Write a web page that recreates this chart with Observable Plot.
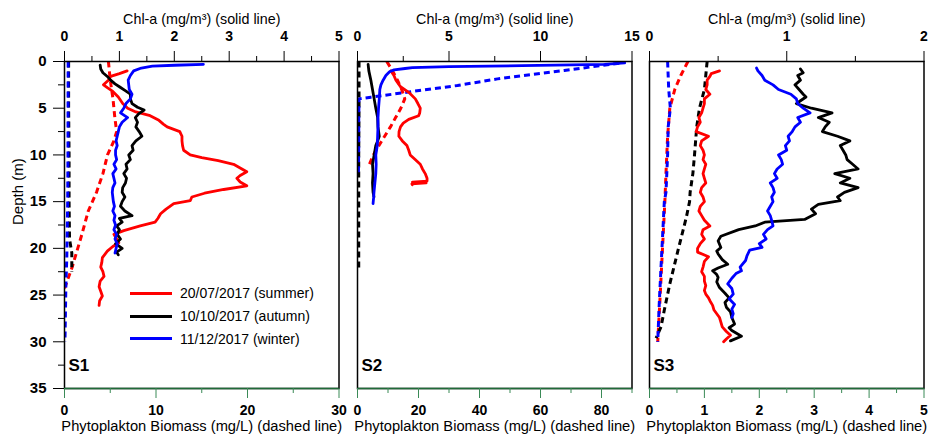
<!DOCTYPE html>
<html><head><meta charset="utf-8">
<script src="https://cdn.jsdelivr.net/npm/d3@7"></script>
<script src="https://cdn.jsdelivr.net/npm/@observablehq/plot@0.6"></script>
<style>
body{margin:0;background:#fff;font-family:"Liberation Sans",Arial,sans-serif;}
#chart{position:relative;width:928px;height:439px;overflow:hidden;}
#chart svg{position:absolute;top:0;overflow:visible;background:none;}
.legend{position:absolute;left:130px;top:282px;font-size:14px;color:#000;}
.legend .row{display:flex;align-items:center;height:22.7px;}
.legend .sw{width:42px;height:3px;margin-right:8px;}
</style></head><body><div id="chart"></div>
<script>
// ---- Data: [depth (m), value] ----
const seasons = ["20/07/2017 (summer)", "10/10/2017 (autumn)", "11/12/2017 (winter)"];
const seasonColors = ["#ff0000", "#000000", "#0000ff"];
const stations = ["S1", "S2", "S3"];

// S1 Chl-a (mg/m3)
const s1SummerChl = [[1.0,1.14],[1.3,1.0],[1.6,0.84],[2.0,0.8],[2.5,0.71],[2.8,0.78],[3.2,0.88],[3.8,0.98],[4.5,1.06],[5.0,1.15],[5.4,1.3],[5.8,1.56],[6.3,1.72],[6.7,1.8],[7.0,1.87],[7.5,2.1],[8.0,2.14],[8.5,2.14],[9.0,2.15],[9.5,2.17],[10.0,2.29],[10.3,2.5],[10.6,2.8],[11.0,3.08],[11.4,3.2],[11.8,3.32],[12.2,3.2],[12.5,3.14],[12.9,3.2],[13.3,3.32],[13.7,2.9],[14.1,2.55],[14.5,2.32],[14.9,2.29],[15.2,1.99],[15.8,1.85],[16.3,1.75],[16.8,1.7],[17.2,1.65],[17.6,1.38],[18.1,1.08],[18.5,0.9],[19.0,0.95],[19.4,0.99],[19.8,0.88],[20.3,0.78],[21.0,0.69],[21.5,0.68],[22.0,0.66],[22.5,0.7],[23.0,0.72],[23.5,0.65],[24.1,0.63],[24.6,0.66],[25.1,0.69],[25.6,0.64],[26.1,0.63]];
const s1AutumnChl = [[0.4,0.65],[0.8,0.66],[1.2,0.7],[1.6,0.78],[2.0,0.84],[2.4,0.92],[2.7,1.0],[3.1,1.1],[3.5,1.2],[4.0,1.2],[4.5,1.23],[4.9,1.33],[5.2,1.45],[5.6,1.35],[6.0,1.29],[6.5,1.33],[7.0,1.3],[7.5,1.36],[8.0,1.41],[8.5,1.3],[9.0,1.23],[9.5,1.25],[10.0,1.17],[10.5,1.2],[11.0,1.12],[11.5,1.14],[12.0,1.08],[12.5,1.13],[13.0,1.11],[13.5,1.06],[14.0,1.05],[14.5,1.1],[15.0,1.05],[15.5,1.02],[16.0,1.1],[16.5,1.23],[16.8,1.0],[17.2,1.05],[17.6,0.95],[18.0,1.0],[18.5,0.96],[19.0,1.02],[19.5,0.93],[20.0,1.05],[20.4,0.95],[20.7,0.98]];
const s1WinterChl = [[0.3,2.53],[0.4,2.0],[0.5,1.6],[0.7,1.4],[1.0,1.26],[1.5,1.2],[2.0,1.16],[2.5,1.17],[3.0,1.18],[3.5,1.23],[4.0,1.2],[4.5,1.12],[5.0,1.08],[5.5,1.02],[6.0,1.15],[6.5,1.05],[7.0,1.0],[7.5,0.98],[8.0,0.96],[8.5,0.94],[9.0,0.96],[9.5,0.93],[10.0,0.93],[10.5,0.95],[11.0,0.9],[11.5,0.94],[12.0,0.88],[12.5,0.9],[13.0,0.92],[13.5,0.88],[14.0,0.87],[14.5,0.88],[15.0,0.89],[15.5,0.91],[16.0,0.88],[16.5,0.92],[17.0,0.9],[17.5,0.93],[18.0,0.9],[18.5,0.95],[19.0,0.92],[19.5,0.96],[20.0,0.94],[20.5,0.92]];
// S1 phytoplankton biomass (mg/L)
const s1SummerBio = [[0,4.8],[2,5.0],[4,5.3],[6,5.5],[7.5,5.7],[8.5,5.4],[10,4.7],[12,4.2],[14,3.5],[16,2.6],[18.5,1.9],[22,0.84],[24.3,0]];
const s1AutumnBio = [[0,0.45],[5,0.45],[10,0.5],[15,0.5],[19,0.55],[20.5,0.8],[22.5,0.8]];
const s1WinterBio = [[0,0.4],[10,0.38],[15,0.35],[18,0.3],[21,0.25],[24,0.15],[27,0.1],[30,0.05]];

// S2 Chl-a
const s2SummerChl = [[1.0,1.82],[1.5,1.99],[2.0,2.1],[2.7,2.35],[3.3,2.8],[4.0,3.16],[4.5,3.3],[5.0,3.43],[5.5,3.4],[5.8,3.34],[6.2,2.8],[6.6,2.5],[7.0,2.35],[7.5,2.27],[8.0,2.26],[8.5,2.45],[9.0,2.7],[9.5,2.8],[10.0,2.88],[10.5,3.15],[11.0,3.43],[11.5,3.55],[12.0,3.7],[12.5,3.8],[12.8,3.8],[12.9,3.0],[13.0,3.75],[13.1,2.97],[13.2,3.0]];
const s2AutumnChl = [[0.3,0.58],[1,0.62],[2,0.73],[3,0.82],[4,0.91],[5,1.0],[6,1.1],[7,1.12],[8,1.19],[8.5,1.1],[9,1.0],[10,0.91],[11,0.82],[12,0.85],[13,0.82],[14,0.85],[14.5,0.9]];
const s2WinterChl = [[0.15,14.6],[0.3,13.5],[0.45,9],[0.55,5],[0.65,3.0],[0.75,2.6],[0.9,2.0],[1.1,1.75],[1.5,1.55],[2.0,1.4],[2.5,1.28],[3.0,1.22],[4.0,1.19],[5.0,1.15],[6.0,1.12],[7.0,1.12],[8.0,1.1],[9.0,1.08],[10.0,1.0],[11.0,1.02],[12.0,1.0],[13.0,0.95],[14.0,0.9],[14.6,0.88],[15.2,0.85]];
// S2 biomass
const s2SummerBio = [[0,9.6],[1,11.5],[2,13.1],[3,14.5],[4,15.5],[5,14.2],[6,12.5],[7,10.8],[8,8.9],[9,7],[10,5.2],[11.1,3.8]];
const s2AutumnBio = [[0,0.5],[5,0.5],[10,0.4],[15,0.4],[20,0.4],[22.3,0.4]];
const s2WinterBio = [[0.18,85.8],[0.96,67.8],[1.86,45.9],[2.57,32.8],[3.18,18.6],[3.82,4.4],[4.0,0.5],[6,0.4],[9,0.4],[12,0.3]];

// S3 Chl-a
const s3SummerChl = [[1.0,0.51],[1.3,0.45],[1.6,0.44],[2.0,0.42],[2.5,0.42],[3.0,0.41],[3.5,0.44],[4.0,0.4],[4.5,0.4],[5.0,0.39],[5.5,0.38],[6.0,0.36],[6.5,0.37],[7.0,0.35],[7.5,0.34],[8.0,0.43],[8.5,0.38],[9.0,0.37],[9.5,0.39],[10.0,0.4],[10.5,0.39],[11.0,0.41],[11.5,0.4],[12.0,0.39],[12.5,0.4],[13.0,0.41],[13.5,0.38],[14.0,0.37],[14.5,0.39],[15.0,0.4],[15.5,0.37],[16.0,0.36],[16.5,0.38],[17.0,0.4],[17.6,0.44],[18.0,0.39],[18.5,0.38],[19.0,0.4],[19.5,0.37],[20.0,0.35],[20.4,0.35],[20.9,0.43],[21.4,0.4],[22.0,0.39],[22.5,0.38],[23.0,0.4],[23.5,0.4],[24.0,0.41],[24.5,0.4],[24.9,0.41],[25.3,0.43],[25.6,0.44],[26.1,0.46],[26.6,0.47],[27.0,0.49],[27.4,0.51],[27.9,0.52],[28.4,0.53],[28.9,0.56],[29.3,0.59],[29.7,0.56],[30.0,0.54]];
const s3AutumnChl = [[0.8,1.1],[1.2,1.12],[1.5,1.08],[2.0,1.1],[2.5,1.06],[3.0,1.09],[3.5,1.12],[3.8,1.14],[4.2,1.1],[4.5,1.07],[5.0,1.18],[5.5,1.33],[6.0,1.23],[6.5,1.31],[7.0,1.28],[7.5,1.26],[8.0,1.37],[8.5,1.46],[9.0,1.39],[9.5,1.41],[10.0,1.43],[10.5,1.44],[11.0,1.48],[11.5,1.52],[12.0,1.35],[12.5,1.46],[13.0,1.39],[13.5,1.52],[14.0,1.42],[14.5,1.37],[14.9,1.39],[15.3,1.23],[15.8,1.18],[16.3,1.21],[16.9,1.13],[17.2,0.84],[17.6,0.77],[18.0,0.65],[18.7,0.52],[19.2,0.5],[19.9,0.52],[20.3,0.49],[20.6,0.5],[21.2,0.53],[21.7,0.57],[22.1,0.5],[22.4,0.46],[22.8,0.49],[23.1,0.5],[23.6,0.49],[24.2,0.51],[24.8,0.55],[25.3,0.58],[25.8,0.55],[26.3,0.56],[26.8,0.59],[27.4,0.6],[28.1,0.62],[28.5,0.58],[28.8,0.6],[29.4,0.67],[29.9,0.59]];
const s3WinterChl = [[0.7,0.78],[1.0,0.79],[1.5,0.82],[2.0,0.84],[2.5,0.9],[3.0,0.94],[3.5,1.03],[4.0,1.07],[4.5,1.08],[5.0,1.12],[5.5,1.17],[6.0,1.08],[6.5,1.1],[7.0,1.06],[7.5,1.04],[8.0,1.01],[8.5,1.02],[9.0,0.99],[9.5,1.0],[10.0,0.94],[10.5,0.96],[11.0,0.97],[11.5,0.93],[12.0,0.91],[12.5,0.93],[13.0,0.88],[13.5,0.9],[14.0,0.91],[14.5,0.89],[15.0,0.9],[15.5,0.88],[16.0,0.86],[16.5,0.88],[17.0,0.89],[17.6,0.9],[18.0,0.86],[18.5,0.83],[19.0,0.85],[19.5,0.8],[19.9,0.82],[20.2,0.73],[20.8,0.71],[21.3,0.7],[22.0,0.66],[22.4,0.67],[22.7,0.63],[23.2,0.6],[23.8,0.57],[24.3,0.6],[24.9,0.61],[25.4,0.58],[26.0,0.62],[26.5,0.6],[27.0,0.61],[27.4,0.6]];
// S3 biomass
const s3SummerBio = [[0,0.7],[1.5,0.57],[3,0.46],[5,0.37],[8,0.33],[12,0.3],[15,0.28],[18.5,0.25],[22,0.22],[25.6,0.19],[30,0.15]];
const s3AutumnBio = [[0,1.05],[3,1.0],[5,0.91],[7,0.86],[10,0.82],[12,0.79],[14,0.74],[15,0.73],[16.7,0.67],[20.2,0.52],[23.8,0.37],[26.6,0.27],[28.4,0.21],[29.6,0.12]];
const s3WinterBio = [[0,0.33],[3,0.35],[5,0.38],[7,0.34],[10,0.33],[14,0.3],[15,0.27],[18.5,0.24],[22,0.21],[25.6,0.18],[30,0.15]];

// Axis ticks
const depthMajor = [0,5,10,15,20,25,30,35];
const depthMinor = [2.5,7.5,12.5,17.5,22.5,27.5,32.5];
const chlDomains = [5, 15, 2];
const chlMajorTicks = [[0,1,2,3,4,5],[0,5,10,15],[0,1,2]];
const chlMinorTicks = [[0.5,1.5,2.5,3.5,4.5],[2.5,7.5,12.5],[0.5,1.5]];
const bioDomains = [30, 90, 5];
const bioMajorTicks = [[0,10,20,30],[0,20,40,60,80],[0,1,2,3,4,5]];
const bioMinorTicks = [[5,15,25],[10,30,50,70,90],[0.5,1.5,2.5,3.5,4.5]];

const chlSeries = [[s1SummerChl,s1AutumnChl,s1WinterChl],[s2SummerChl,s2AutumnChl,s2WinterChl],[s3SummerChl,s3AutumnChl,s3WinterChl]];
const bioSeries = [[s1SummerBio,s1AutumnBio,s1WinterBio],[s2SummerBio,s2AutumnBio,s2WinterBio],[s3SummerBio,s3AutumnBio,s3WinterBio]];

// ---- Layout ----
const frameW = 274.5;
const lefts = [0, 336.5, 628.5];
const mLefts = [64, 20, 20];
const green = "#1f6b38";
const tickGreen = "#3b8a57";
const font = "'Liberation Sans', Arial, sans-serif";
const chart = document.getElementById("chart");

for (let i = 0; i < 3; i++) {
  const k = chlDomains[i] / bioDomains[i];
  const marks = [];
  bioSeries[i].forEach((s, j) => {
    marks.push(Plot.line(s, {x: d => d[1] * k, y: d => d[0], stroke: seasonColors[j], strokeWidth: 3, strokeDasharray: "6,4", strokeLinecap: "butt", clip: true}));
  });
  chlSeries[i].forEach((s, j) => {
    marks.push(Plot.line(s, {x: d => d[1], y: d => d[0], stroke: seasonColors[j], strokeWidth: 2.8, strokeLinejoin: "round", clip: true}));
  });
  marks.push(Plot.frame({stroke: "#000", strokeWidth: 1.5}));
  marks.push(Plot.ruleY([35], {stroke: green, strokeWidth: 1.5}));
  // top axis (Chl-a)
  marks.push(Plot.axisX(chlMajorTicks[i], {anchor: "top", tickSize: 11, tickPadding: 10, fontSize: 14, fontWeight: "bold", label: null, tickFormat: d => String(d)}));
  marks.push(Plot.axisX(chlMinorTicks[i], {anchor: "top", tickSize: 6, label: null, tickFormat: () => ""}));
  // bottom axis (biomass), in biomass units mapped onto the panel
  marks.push(Plot.axisX(bioMajorTicks[i].map(v => v * k), {anchor: "bottom", tickSize: 10, tickPadding: 7, stroke: tickGreen, fill: "#000", fontSize: 14, fontWeight: "bold", label: null, tickFormat: v => String(Math.round(v / k))}));
  marks.push(Plot.axisX(bioMinorTicks[i].map(v => v * k), {anchor: "bottom", tickSize: 5, stroke: tickGreen, label: null, tickFormat: () => ""}));
  if (i === 0) {
    marks.push(Plot.axisY(depthMajor, {anchor: "left", tickSize: 11, tickPadding: 7, fontSize: 15, fontWeight: "bold", label: null, tickFormat: d => String(d)}));
    marks.push(Plot.axisY(depthMinor, {anchor: "left", tickSize: 6, label: null, tickFormat: () => ""}));
    marks.push(Plot.text(["Depth (m)"], {frameAnchor: "left", dx: -46, rotate: -90, fontSize: 15, fill: "#000"}));
  }
  marks.push(Plot.text(["Chl-a (mg/m³) (solid line)"], {frameAnchor: "top", dy: -48, fontSize: 14.3, fill: "#000"}));
  marks.push(Plot.text(["Phytoplakton Biomass (mg/L) (dashed line)"], {frameAnchor: "bottom", dy: 42, fontSize: 14.7, fill: "#000"}));
  marks.push(Plot.text([stations[i]], {frameAnchor: "bottom-left", dx: 4, dy: -18, fontSize: 17, fontWeight: "bold", fill: "#000", textAnchor: "start"}));

  const svg = Plot.plot({
    width: mLefts[i] + frameW + 10,
    height: 439,
    marginTop: 61,
    marginBottom: 51,
    marginLeft: mLefts[i],
    marginRight: 10,
    x: {domain: [0, chlDomains[i]], axis: null},
    y: {domain: [0, 35], reverse: true, axis: null},
    style: {fontFamily: font, color: "#000", background: "none", overflow: "visible"},
    marks
  });
  svg.style.left = lefts[i] + "px";
  chart.appendChild(svg);
}

// legend
const legend = document.createElement("div");
legend.className = "legend";
seasons.forEach((s, j) => {
  const row = document.createElement("div");
  row.className = "row";
  const sw = document.createElement("div");
  sw.className = "sw";
  sw.style.background = seasonColors[j];
  const t = document.createElement("span");
  t.textContent = s;
  row.appendChild(sw); row.appendChild(t);
  legend.appendChild(row);
});
chart.appendChild(legend);
</script></body></html>
